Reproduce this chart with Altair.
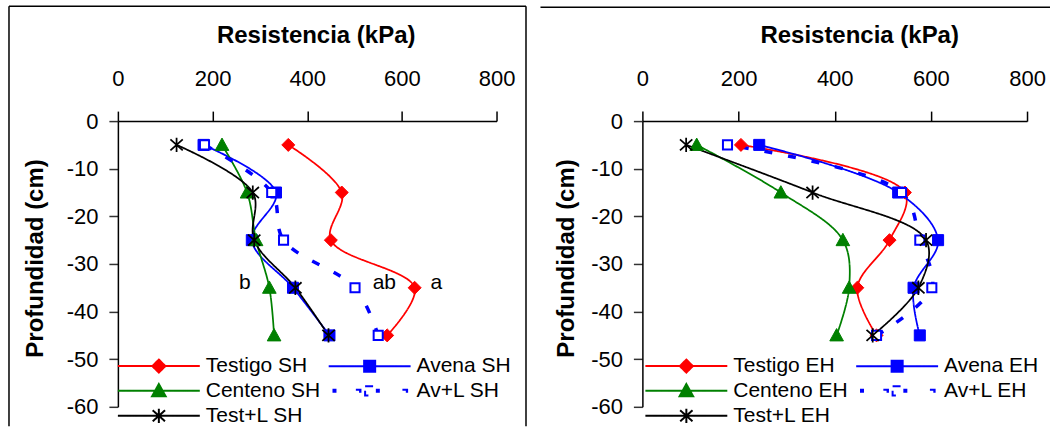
import altair as alt
import pandas as pd

# ---------------- data ----------------
profundidad = [-5, -15, -25, -35, -45]

series_sh = ["Testigo SH", "Avena SH", "Centeno SH", "Av+L SH", "Test+L SH"]
series_eh = ["Testigo EH", "Avena EH", "Centeno EH", "Av+L EH", "Test+L EH"]

testigo_sh = [360, 473, 450, 627, 569]
avena_sh = [181, 334, 283, 370, 447]
centeno_sh = [220, 273, 292, 320, 330]
avl_sh = [183, 325, 350, 501, 550]
testl_sh = [124, 285, 288, 375, 445]

testigo_eh = [205, 546, 514, 447, 487]
avena_eh = [243, 532, 615, 564, 577]
centeno_eh = [113, 288, 417, 430, 404]
avl_eh = [177, 539, 577, 602, 487]
testl_eh = [91, 354, 590, 574, 479]

x_ticks = [0, 200, 400, 600, 800]
y_ticks = [0, -10, -20, -30, -40, -50, -60]

notas_texto = ["b", "ab", "a"]
notas_x = [268, 563, 673]
notas_y = [-34, -34, -34]

# ---------------- styles ----------------
FONT = "Liberation Sans"
colores = ["#FF0000", "#0000FF", "#008000", "#0000FF", "#000000"]
rellenos = ["#FF0000", "#0000FF", "#008000", "#FFFFFF", "transparent"]
rellenos_leyenda = ["#FF0000", "#0000FF", "#008000", "#FFFFFF", "#000000"]
guiones = [[1, 0], [1, 0], [1, 0], [8, 16], [1, 0]]
anchos = [1.75, 1.75, 1.75, 3.5, 1.75]
anchos_mk = [1, 1, 1, 2, 1.75]

diamond = [([(0, -1), (1, 0), (0, 1), (-1, 0)], True)]
square = [([(-.85, -.85), (.85, -.85), (.85, .85), (-.85, .85)], True)]
triangle = [([(0, -1.05), (1.05, .85), (-1.05, .85)], True)]
open_sq = [([(-.7, -.7), (.7, -.7), (.7, .7), (-.7, .7)], True)]
asterisk = [([(0, -1.1), (0, 1.1)], False), ([(-.95, -.85), (.95, .85)], False),
            ([(-.95, .85), (.95, -.85)], False)]
marcadores = [diamond, square, triangle, open_sq, asterisk]

MK_HALF = 6.5                     # marker half-size in px
MK_SIZE = (2 * MK_HALF) ** 2


def path_from(polys, fx=lambda x: x, fy=lambda y: y):
    parts = []
    for pts, closed in polys:
        s = "M" + "L".join(f"{fx(x):.4f},{fy(y):.4f}" for x, y in pts)
        if closed:
            s += "Z"
        parts.append(s)
    return "".join(parts)


formas = [path_from(m) for m in marcadores]

# legend symbols: line + marker, built in px relative to entry left, then
# converted to the unit system of a symbol of size 400 (half = 10 px)
LEG_SYM = 400
U = 10.0
C0 = 11.0      # symbol centre set by vega (Size/2)
LINE_W = 82.0
MID = LINE_W / 2


def to_u(px):
    return (px - C0) / U


def leg_path(i):
    if i == 3:
        dashes = [(-37.2, -34.2), (-13.8, -9.2), (6.2, 9.2), (32.8, 37.5)]
        base = "".join(
            path_from([([(MID + a, -1), (MID + b, -1), (MID + b, 1), (MID + a, 1)], True)],
                      fx=to_u, fy=lambda y: y / U)
            for a, b in dashes)
    else:
        base = path_from([([(0, 0), (LINE_W, 0)], False)], fx=to_u, fy=lambda y: y / U)
    mk = path_from(marcadores[i], fx=lambda x: to_u(MID + x * MK_HALF),
                   fy=lambda y: y * MK_HALF / U)
    return base + mk


formas_leyenda = [leg_path(i) for i in range(5)]


def tabla(series, valores):
    filas = []
    for i, (s, vals) in enumerate(zip(series, valores)):
        for p, v in zip(profundidad, vals):
            filas.append(dict(serie=s, prof=p, valor=v, color=colores[i],
                              ancho=anchos[i], forma=formas[i],
                              relleno=rellenos[i], ancho_mk=anchos_mk[i], orden=i))
    return pd.DataFrame(filas)


def panel(series, valores, w, title_x, ytitle_x, legend_x, frame, notas=None):
    df = tabla(series, valores)
    xscale = alt.Scale(domain=[0, 800], nice=False)
    yscale = alt.Scale(domain=[-60, 0], nice=False)
    xaxis = alt.Axis(orient="top", values=x_ticks, grid=False, tickSize=10,
                     labelPadding=21, labelFontSize=22, labelFont=FONT,
                     labelColor="black", tickColor="black", domainColor="black",
                     labelFlush=False, labelOverlap=False,
                     title="Resistencia (kPa)", titleFont=FONT, titleFontSize=24,
                     titleFontWeight="bold", titleColor="black",
                     titleX=title_x, titleY=-79, titleAlign="center",
                     titleBaseline="alphabetic")
    yaxis = alt.Axis(orient="left", values=y_ticks, grid=False, tickSize=9,
                     labelPadding=11, labelFontSize=22, labelFont=FONT,
                     labelColor="black", tickColor="#333333", domainColor="black",
                     labelExpr="'' + datum.value", labelFlush=False,
                     labelOverlap=False,
                     title="Profundidad (cm)", titleFont=FONT, titleFontSize=24,
                     titleFontWeight="bold", titleColor="black",
                     titleX=ytitle_x, titleY=137, titleAlign="center",
                     titleBaseline="alphabetic", titleAngle=270)

    lines = alt.Chart(df).mark_line(interpolate="catmull-rom").encode(
        x=alt.X("valor:Q", scale=xscale, axis=xaxis),
        y=alt.Y("prof:Q", scale=yscale, axis=yaxis),
        detail="serie:N",
        order="prof:Q",
        stroke=alt.Stroke("color:N", scale=None),
        strokeWidth=alt.StrokeWidth("ancho:Q", scale=None),
        strokeDash=alt.StrokeDash("serie:N",
                                  scale=alt.Scale(domain=series, range=guiones),
                                  legend=None),
    )
    points = alt.Chart(df).mark_point(filled=True, opacity=1, size=MK_SIZE).encode(
        x="valor:Q", y="prof:Q",
        shape=alt.Shape("forma:N", scale=None),
        fill=alt.Fill("relleno:N", scale=None),
        stroke=alt.Stroke("color:N", scale=None),
        strokeWidth=alt.StrokeWidth("ancho_mk:Q", scale=None),
        order="orden:Q",
    )
    legend = alt.Legend(orient="none", legendX=legend_x, legendY=234, columns=2,
                        direction="horizontal",
                        title=None, symbolSize=LEG_SYM, symbolStrokeWidth=2,
                        labelFontSize=21, labelFont=FONT, labelColor="black",
                        columnPadding=4, rowPadding=3, labelOffset=66, padding=0,
                        symbolOffset=0, labelLimit=300)
    leg = alt.Chart(df).transform_filter("datum.prof > 0").mark_point(
        filled=True, opacity=1, strokeWidth=2).encode(
        x="valor:Q", y="prof:Q",
        shape=alt.Shape("serie:N", scale=alt.Scale(domain=series, range=formas_leyenda),
                        legend=legend),
        fill=alt.Fill("serie:N", scale=alt.Scale(domain=series, range=rellenos_leyenda),
                      legend=legend),
        stroke=alt.Stroke("serie:N", scale=alt.Scale(domain=series, range=colores),
                          legend=legend),
    )
    one = pd.DataFrame({"a": [0]})
    capas = [lines, points, leg]
    fx1, fx2, fy1, fy2, sides = frame
    capas.append(alt.Chart(one).mark_rule(color="black", strokeWidth=1.5).encode(
        x=alt.value(fx1), x2=alt.value(fx2), y=alt.value(fy1)))
    if sides:
        capas.append(alt.Chart(one).mark_rule(color="black", strokeWidth=1.5).encode(
            x=alt.value(fx1), y=alt.value(fy1), y2=alt.value(fy2)))
        capas.append(alt.Chart(one).mark_rule(color="black", strokeWidth=1.5).encode(
            x=alt.value(fx2), y=alt.value(fy1), y2=alt.value(fy2)))
    if notas is not None:
        capas.append(alt.Chart(notas).mark_text(fontSize=21, font=FONT, color="black",
                                                align="center", baseline="middle").encode(
            x="x:Q", y="y:Q", text="t:N"))
    return alt.layer(*capas).properties(width=w, height=286)


notas_df = pd.DataFrame({"t": notas_texto, "x": notas_x, "y": notas_y})

izq = panel(series_sh, [testigo_sh, avena_sh, centeno_sh, avl_sh, testl_sh],
            379, 198, -75, 0, (-109, 408.5, -115, 305.5, True), notas_df)
der = panel(series_eh, [testigo_eh, avena_eh, centeno_eh, avl_eh, testl_eh],
            385, 217, -69, 3, (-102, 408, -114, 0, False))

chart = alt.hconcat(izq, der, spacing=12).resolve_scale(
    shape="independent", fill="independent", stroke="independent",
    strokeDash="independent",
).resolve_legend(
    shape="independent", fill="independent", stroke="independent",
).properties(
    padding={"left": 8, "top": 5, "right": 0, "bottom": 0},
    background="white",
).configure_view(stroke=None).configure_axis(domainWidth=1.5, tickWidth=1.5)

chart.save("out.html", embed_options={"renderer": "svg", "actions": False})
